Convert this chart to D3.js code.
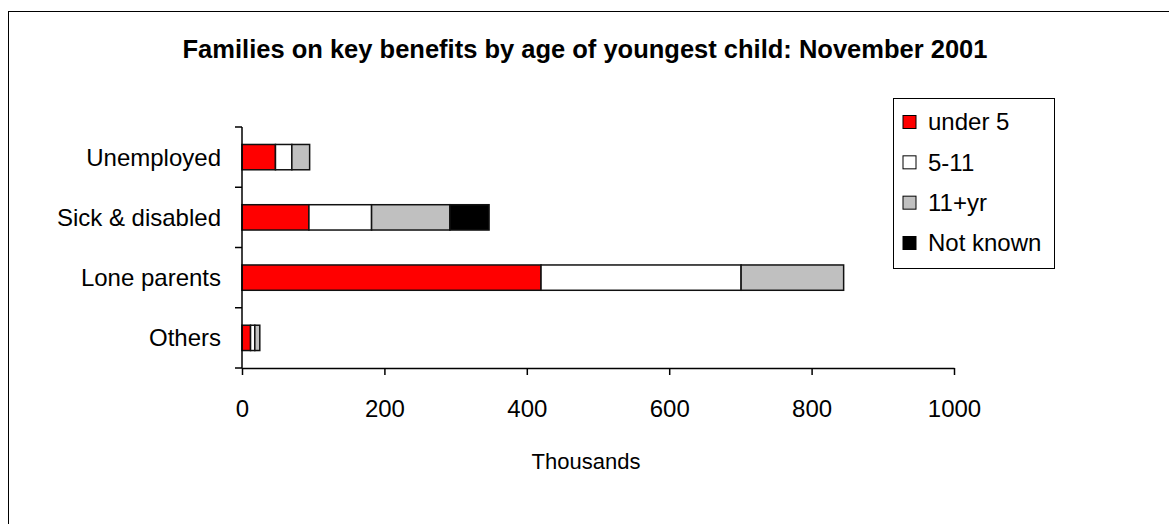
<!DOCTYPE html>
<html>
<head>
<meta charset="utf-8">
<script src="https://cdn.jsdelivr.net/npm/d3@7"></script>
<style>
  html, body { margin: 0; padding: 0; background: #fff; }
  svg { display: block; font-family: "Liberation Sans", Arial, sans-serif; }
</style>
</head>
<body>
<svg id="chart" width="1169" height="524"></svg>
<script>
// ---- data ----
const categories = ["Unemployed", "Sick & disabled", "Lone parents", "Others"];
const seriesNames = ["under 5", "5-11", "11+yr", "Not known"];
const under5   = [47, 94, 420, 12];
const age5to11 = [23, 88, 281, 6];
const age11plus = [25, 110, 144, 7];
const notKnown = [0, 55, 0, 0];
const xTicks = [0, 200, 400, 600, 800, 1000];
const titleText = "Families on key benefits by age of youngest child: November 2001";
const xAxisTitle = "Thousands";

const colors = ["#FF0000", "#FFFFFF", "#C0C0C0", "#000000"];

const rows = categories.map((c, i) => ({
  cat: c,
  "under 5": under5[i], "5-11": age5to11[i], "11+yr": age11plus[i], "Not known": notKnown[i]
}));
const stacked = d3.stack().keys(seriesNames)(rows);

const svg = d3.select("#chart");

// outer frame (cropped at right/bottom)
svg.append("rect").attr("x", 8.5).attr("y", 11.5).attr("width", 1300).attr("height", 700)
  .attr("fill", "none").attr("stroke", "#000").attr("stroke-width", 1);

const x = d3.scaleLinear().domain([0, 1000]).range([242, 954]);
const y = d3.scaleBand().domain(categories).range([127, 368]).paddingInner(0.58).paddingOuter(0.29);

// title
svg.append("text").attr("x", 585).attr("y", 58).attr("text-anchor", "middle")
  .attr("font-size", 25.5).attr("font-weight", "bold").text(titleText);

// bars
const color = d3.scaleOrdinal().domain(seriesNames).range(colors);
svg.append("g").selectAll("g").data(stacked).join("g")
  .attr("fill", d => color(d.key))
  .selectAll("rect").data(d => d.filter(s => s[1] - s[0] > 0)).join("rect")
  .attr("x", d => x(d[0]))
  .attr("y", d => y(d.data.cat))
  .attr("width", d => x(d[1]) - x(d[0]))
  .attr("height", y.bandwidth())
  .attr("stroke", "#111").attr("stroke-width", 1.5);

// x axis
const xAxis = svg.append("g").attr("transform", "translate(0,368)")
  .call(d3.axisBottom(x).tickValues(xTicks).tickFormat(d3.format("d"))
    .tickSize(7).tickPadding(25).tickSizeOuter(0));
xAxis.select(".domain").attr("stroke", "#000").attr("stroke-width", 1.5);
xAxis.selectAll(".tick line").attr("stroke", "#000").attr("stroke-width", 1.5);
xAxis.selectAll("text").attr("font-size", 24).attr("fill", "#000")
  .attr("font-family", "'Liberation Sans', Arial, sans-serif");

// y axis line + ticks at band boundaries
const step = y.step();
const y0 = y.range()[0];
const bounds = d3.range(categories.length + 1).map(i => y0 + i * step);
svg.append("line").attr("x1", x(0)).attr("x2", x(0)).attr("y1", y0).attr("y2", 368)
  .attr("stroke", "#000").attr("stroke-width", 1.5);
svg.append("g").selectAll("line").data(bounds).join("line")
  .attr("x1", x(0) - 7).attr("x2", x(0)).attr("y1", d => d).attr("y2", d => d)
  .attr("stroke", "#000").attr("stroke-width", 1.5);

// category labels
svg.append("g").selectAll("text").data(categories).join("text")
  .attr("x", 221).attr("y", d => y(d) + y.bandwidth() / 2)
  .attr("dy", "0.35em").attr("text-anchor", "end").attr("font-size", 24).text(d => d);

// x axis title
svg.append("text").attr("x", 586).attr("y", 469).attr("text-anchor", "middle")
  .attr("font-size", 22).text(xAxisTitle);

// legend
const lg = svg.append("g");
lg.append("rect").attr("x", 893.5).attr("y", 98.5).attr("width", 161).attr("height", 170)
  .attr("fill", "#fff").attr("stroke", "#000").attr("stroke-width", 1);
const ly = d3.scalePoint().domain(seriesNames).range([122, 243]);
const items = lg.selectAll("g.item").data(seriesNames).join("g").attr("class", "item")
  .attr("transform", d => `translate(903,${ly(d)})`);
items.append("rect").attr("x", 0).attr("y", -6.5).attr("width", 13).attr("height", 13)
  .attr("fill", d => color(d)).attr("stroke", "#000").attr("stroke-width", 1);
items.append("text").attr("x", 25).attr("y", 0).attr("dy", "0.35em").attr("font-size", 24).text(d => d);
</script>
</body>
</html>
